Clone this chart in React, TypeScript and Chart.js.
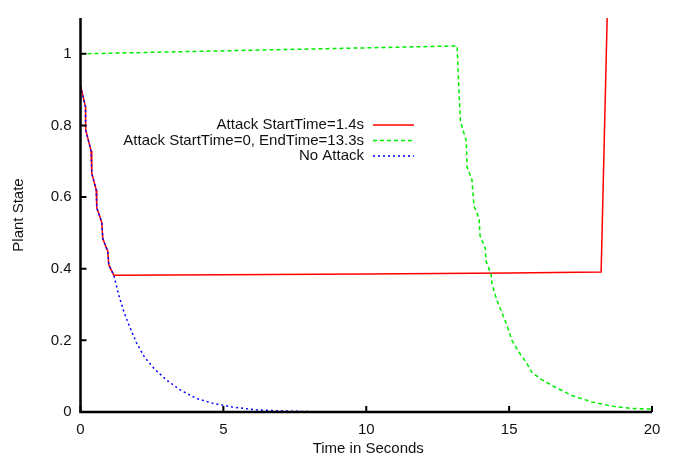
import React, { useEffect, useRef } from "react";
import { Chart, registerables } from "chart.js";

Chart.register(...registerables);

// ---- Data ----
const attackT = [0, 0.175, 0.18, 0.37, 0.395, 0.55, 0.57, 0.745, 0.78, 0.955, 0.99, 1.165, 5, 10, 15, 18.22, 18.49];
const attackV = [0.911, 0.852, 0.788, 0.729, 0.666, 0.62, 0.57, 0.529, 0.484, 0.448, 0.411, 0.382, 0.383, 0.385, 0.388, 0.391, 1.3];

const windowT = [0, 13.18, 13.25, 13.3, 13.5, 13.53, 13.7, 13.77, 13.95, 13.98, 14.16, 14.2, 14.37, 14.4, 14.58, 14.76, 14.93, 15.1, 15.35, 15.6, 15.8, 16.15, 16.64, 17.2, 17.9, 18.7, 19.3, 20];
const windowV = [1.0, 1.022, 0.883, 0.81, 0.757, 0.684, 0.648, 0.575, 0.54, 0.493, 0.458, 0.42, 0.384, 0.357, 0.31, 0.275, 0.24, 0.2, 0.166, 0.139, 0.11, 0.09, 0.068, 0.046, 0.028, 0.015, 0.01, 0.008];

const noAttackT = [0, 0.175, 0.18, 0.37, 0.395, 0.55, 0.57, 0.745, 0.78, 0.955, 0.99, 1.165, 1.36, 1.54, 1.71, 1.96, 2.24, 2.59, 3.0, 3.46, 4.05, 4.6, 5.3, 6.15, 7.06, 8, 10, 15, 20];
const noAttackV = [0.911, 0.852, 0.788, 0.729, 0.666, 0.62, 0.57, 0.529, 0.484, 0.448, 0.411, 0.382, 0.32, 0.275, 0.24, 0.193, 0.153, 0.12, 0.09, 0.063, 0.038, 0.025, 0.014, 0.006, 0.003, 0.001, 0, 0, 0];

const seriesLabels = ["Attack StartTime=1.4s", "Attack StartTime=0, EndTime=13.3s", "No Attack"];
const xTicks = [0, 5, 10, 15, 20];
const yTicks = [0, 0.2, 0.4, 0.6, 0.8, 1];

const FONT = "'Liberation Sans', Arial, Helvetica, sans-serif";

function pts(t: number[], v: number[]) {
  return t.map((x, i) => ({ x, y: v[i] }));
}

const overlayPlugin = {
  id: "overlay",
  afterDraw(chart: any) {
    const { ctx, chartArea, scales } = chart;
    const xs = scales.x;
    const ys = scales.y;
    ctx.save();
    // axes
    ctx.strokeStyle = "#000";
    ctx.lineWidth = 2.5;
    ctx.beginPath();
    ctx.moveTo(chartArea.left, chartArea.top);
    ctx.lineTo(chartArea.left, chartArea.bottom);
    ctx.lineTo(chartArea.right, chartArea.bottom);
    ctx.stroke();
    // inward ticks
    ctx.lineWidth = 2;
    ctx.beginPath();
    xTicks.forEach((t) => {
      const px = xs.getPixelForValue(t);
      ctx.moveTo(px, chartArea.bottom);
      ctx.lineTo(px, chartArea.bottom - 6);
    });
    yTicks.forEach((t) => {
      const py = ys.getPixelForValue(t);
      ctx.moveTo(chartArea.left, py);
      ctx.lineTo(chartArea.left + 6, py);
    });
    ctx.stroke();
    // axis titles
    ctx.fillStyle = "#111";
    ctx.font = `15px ${FONT}`;
    ctx.textAlign = "center";
    ctx.textBaseline = "middle";
    ctx.fillText("Time in Seconds", (chartArea.left + chartArea.right) / 2 + 2, 449);
    ctx.save();
    ctx.translate(19, (chartArea.top + chartArea.bottom) / 2);
    ctx.rotate(-Math.PI / 2);
    ctx.fillText("Plant State", 0, 0);
    ctx.restore();
    // legend
    const rows = [125, 140.5, 156];
    chart.data.datasets.forEach((ds: any, i: number) => {
      const y = rows[i];
      ctx.fillStyle = "#111";
      ctx.textAlign = "right";
      ctx.fillText(ds.label, 364, y);
      ctx.strokeStyle = ds.borderColor;
      ctx.lineWidth = 1.5;
      ctx.setLineDash(ds.borderDash || []);
      ctx.beginPath();
      ctx.moveTo(373, y);
      ctx.lineTo(414, y);
      ctx.stroke();
      ctx.setLineDash([]);
    });
    ctx.restore();
  },
};

export default function App() {
  const ref = useRef<HTMLCanvasElement | null>(null);
  useEffect(() => {
    if (!ref.current) return;
    const chart = new Chart(ref.current, {
      type: "line",
      data: {
        datasets: [
          {
            label: seriesLabels[0],
            data: pts(attackT, attackV),
            borderColor: "#ff0000",
            borderWidth: 1.5,
            pointRadius: 0,
            tension: 0,
            order: 2,
          },
          {
            label: seriesLabels[1],
            data: pts(windowT, windowV),
            borderColor: "#00ee00",
            borderWidth: 1.5,
            borderDash: [4, 3],
            pointRadius: 0,
            tension: 0,
            order: 1,
          },
          {
            label: seriesLabels[2],
            data: pts(noAttackT, noAttackV),
            borderColor: "#0000ff",
            borderWidth: 1.5,
            borderDash: [2, 3],
            pointRadius: 0,
            tension: 0,
            order: 0,
          },
        ],
      },
      options: {
        animation: false,
        responsive: false,
        maintainAspectRatio: false,
        layout: { padding: { top: 7, right: 26, left: 0, bottom: 0 } },
        plugins: { legend: { display: false }, tooltip: { enabled: false } },
        scales: {
          x: {
            type: "linear",
            min: 0,
            max: 20,
            grid: { display: false, drawTicks: false },
            border: { display: false },
            afterBuildTicks: (s: any) => {
              s.ticks = xTicks.map((v) => ({ value: v }));
            },
            afterFit: (s: any) => {
              s.height = 46;
            },
            ticks: {
              padding: 9,
              color: "#111",
              font: { family: FONT, size: 15 },
              maxRotation: 0,
              callback: (v: any) => String(v),
            },
          },
          y: {
            type: "linear",
            min: 0,
            max: 1.1,
            grid: { display: false, drawTicks: false },
            border: { display: false },
            afterBuildTicks: (s: any) => {
              s.ticks = yTicks.map((v) => ({ value: v }));
            },
            afterFit: (s: any) => {
              s.width = 80.5;
            },
            ticks: {
              padding: 9,
              color: "#111",
              font: { family: FONT, size: 15 },
              callback: (v: any) => String(Math.round(v * 10) / 10),
            },
          },
        },
      },
      plugins: [overlayPlugin],
    });
    return () => chart.destroy();
  }, []);
  return (
    <div style={{ position: "fixed", left: 0, top: 0, width: 678, height: 458, background: "#fff" }}>
      <canvas ref={ref} width={678} height={458} style={{ display: "block" }} />
    </div>
  );
}
